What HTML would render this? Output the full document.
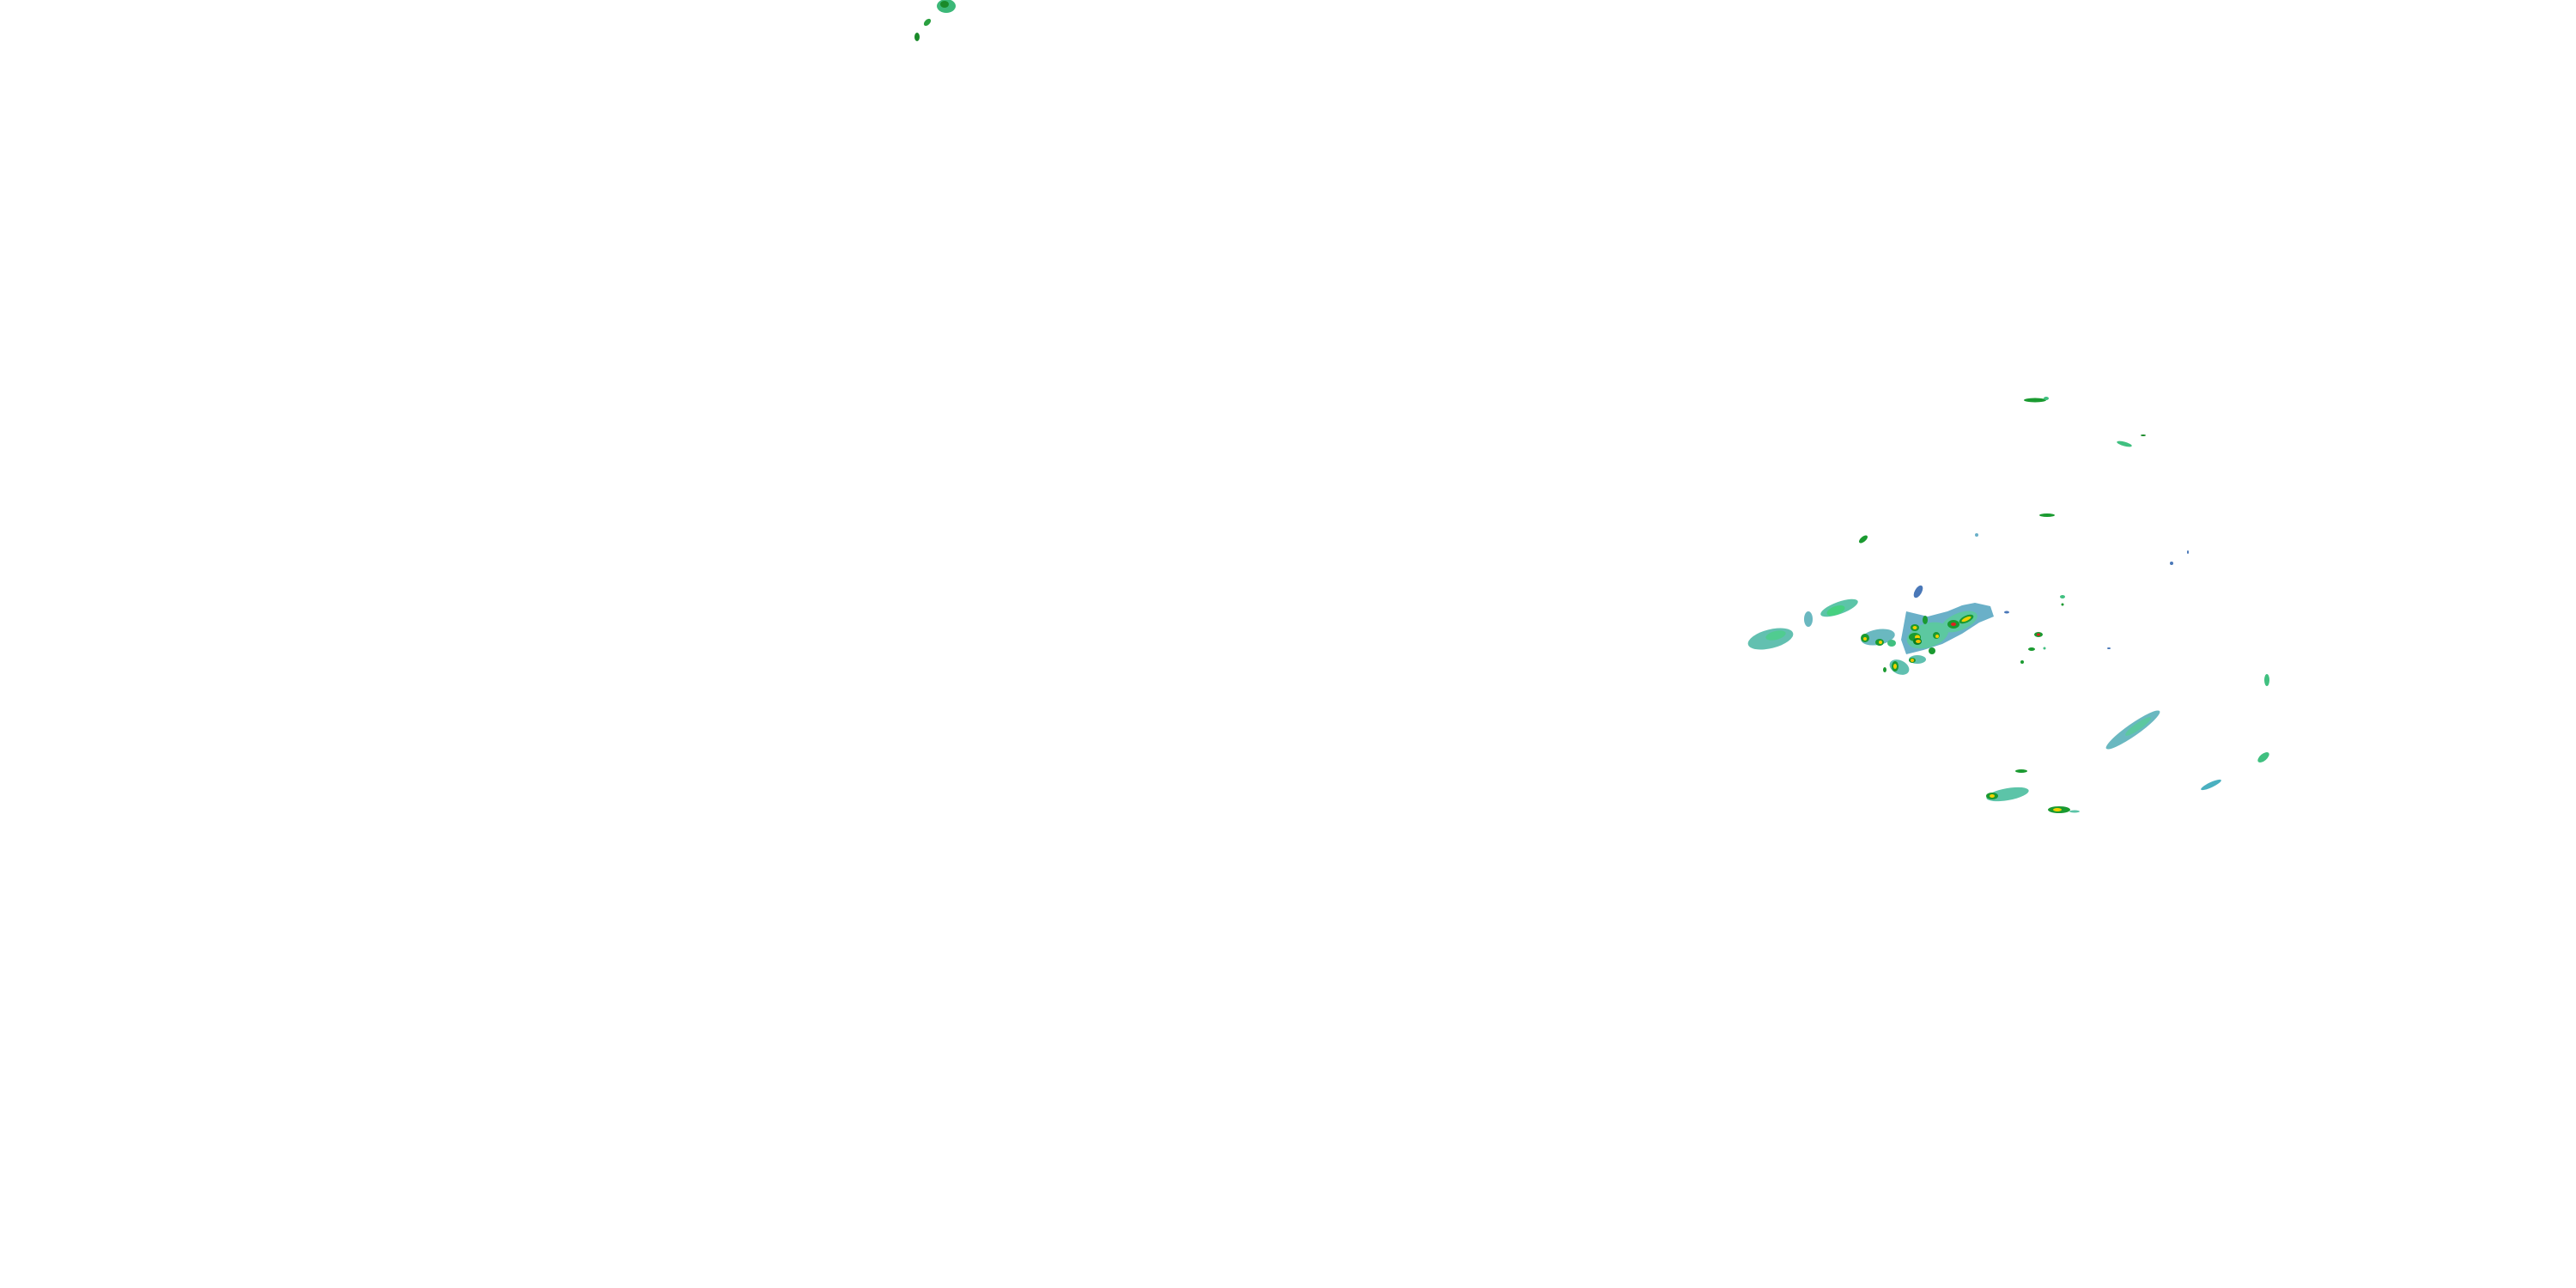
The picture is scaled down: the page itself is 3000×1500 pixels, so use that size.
<!DOCTYPE html>
<html><head><meta charset="utf-8"><style>html,body{margin:0;padding:0;background:#fff}svg{display:block}</style></head>
<body>
<svg width="3000" height="1500" viewBox="0 0 3000 1500" xmlns="http://www.w3.org/2000/svg">
<rect width="3000" height="1500" fill="#fff"/>
<!-- top-left cluster -->
<ellipse cx="1102" cy="7" rx="11" ry="8" fill="#3cb878"/>
<ellipse cx="1100" cy="5" rx="5" ry="4" fill="#1a8a2a"/>
<ellipse cx="1080" cy="26" rx="5" ry="3" fill="#2aa040" transform="rotate(-45 1080 26)"/>
<ellipse cx="1068" cy="43" rx="3" ry="5" fill="#1a8a2a"/>
<!-- main region -->
<g>
<ellipse cx="2062" cy="744" rx="27" ry="11" fill="#62c0b0" transform="rotate(-14 2062 744)"/>
<ellipse cx="2068" cy="740" rx="12" ry="5" fill="#50cc90" transform="rotate(-14 2068 740)"/>
<ellipse cx="2142" cy="708" rx="23" ry="7" fill="#5cc4a8" transform="rotate(-20 2142 708)"/>
<ellipse cx="2138" cy="711" rx="11" ry="5" fill="#46d080" transform="rotate(-20 2138 711)"/>
<ellipse cx="2106" cy="721" rx="5" ry="9" fill="#6ab8c0"/>
<ellipse cx="2234" cy="689" rx="4" ry="8" fill="#4a78b8" transform="rotate(30 2234 689)"/>
<!-- main cluster -->
<polygon points="2220,712 2245,718 2268,712 2285,705 2300,702 2318,706 2322,718 2305,725 2285,738 2262,750 2240,757 2220,762 2214,745" fill="#6ab0c8"/>
<ellipse cx="2245" cy="740" rx="25" ry="14" fill="#5cc8a0" transform="rotate(-18 2245 740)"/>
<ellipse cx="2282" cy="724" rx="22" ry="10" fill="#5cc8a0" transform="rotate(-22 2282 724)"/>
<ellipse cx="2230" cy="742" rx="7" ry="5" fill="#1a9a30"/>
<ellipse cx="2233" cy="742" rx="3" ry="2.5" fill="#f0d000"/>
<ellipse cx="2230" cy="731" rx="5" ry="4" fill="#1a9a30"/>
<ellipse cx="2230" cy="731" rx="2.5" ry="2" fill="#f0d000"/>
<ellipse cx="2233" cy="747" rx="5" ry="4" fill="#0a8020"/>
<ellipse cx="2234" cy="747" rx="3" ry="2" fill="#f0c000"/>
<ellipse cx="2255" cy="740" rx="4" ry="4" fill="#1a9a30"/>
<ellipse cx="2256" cy="741" rx="2" ry="2" fill="#f0d000"/>
<ellipse cx="2275" cy="727" rx="7" ry="5" fill="#1a9a30"/>
<ellipse cx="2275" cy="727" rx="3" ry="2" fill="#e02020"/>
<ellipse cx="2290" cy="721" rx="9" ry="4" fill="#1a9a30" transform="rotate(-25 2290 721)"/>
<ellipse cx="2290" cy="721" rx="6" ry="2" fill="#f0d000" transform="rotate(-25 2290 721)"/>
<ellipse cx="2242" cy="722" rx="3" ry="5" fill="#1a9a30"/>
<!-- left part -->
<ellipse cx="2187" cy="742" rx="20" ry="9" fill="#6ab8c0" transform="rotate(-10 2187 742)"/>
<ellipse cx="2172" cy="743" rx="5" ry="5" fill="#1a9a30"/>
<ellipse cx="2172" cy="744" rx="2" ry="2" fill="#f0d000"/>
<ellipse cx="2189" cy="748" rx="5" ry="4" fill="#1a9a30"/>
<ellipse cx="2190" cy="748" rx="2" ry="2" fill="#f0d000"/>
<ellipse cx="2203" cy="749" rx="5" ry="4" fill="#40c080"/>
<!-- lower -->
<ellipse cx="2212" cy="777" rx="12" ry="8" fill="#60c0b0" transform="rotate(25 2212 777)"/>
<ellipse cx="2207" cy="776" rx="4" ry="6" fill="#1a9a30"/>
<ellipse cx="2207" cy="776" rx="2" ry="3" fill="#f0d000"/>
<ellipse cx="2233" cy="768" rx="10" ry="5" fill="#60c0b0"/>
<ellipse cx="2227" cy="769" rx="4" ry="3" fill="#1a9a30"/>
<ellipse cx="2227" cy="769" rx="2" ry="2" fill="#f0c000"/>
<ellipse cx="2250" cy="758" rx="4" ry="4" fill="#1a9a30"/>
<ellipse cx="2195" cy="780" rx="2" ry="3" fill="#1a9a30"/>
<!-- right dots -->
<ellipse cx="2374" cy="739" rx="5" ry="3" fill="#1a9a30"/>
<ellipse cx="2374" cy="739" rx="2" ry="1.5" fill="#e02020"/>
<ellipse cx="2366" cy="756" rx="4" ry="2" fill="#1a9a30"/>
<ellipse cx="2355" cy="771" rx="2" ry="2" fill="#1a9a30"/>
<ellipse cx="2381" cy="755" rx="1.5" ry="1.5" fill="#40c080"/>
<ellipse cx="2402" cy="695" rx="3" ry="2" fill="#40c080"/>
<ellipse cx="2402" cy="704" rx="1.5" ry="1.5" fill="#1a9a30"/>
<ellipse cx="2456" cy="755" rx="2" ry="1" fill="#4a78b8"/>
<ellipse cx="2337" cy="713" rx="3" ry="1.5" fill="#4a78b8"/>
</g>
<!-- upper scattered -->
<ellipse cx="2370" cy="466" rx="13" ry="2.5" fill="#1a9a30"/>
<ellipse cx="2383" cy="464" rx="3" ry="2" fill="#40c080"/>
<ellipse cx="2474" cy="517" rx="9" ry="2.5" fill="#40c080" transform="rotate(15 2474 517)"/>
<ellipse cx="2496" cy="507" rx="3" ry="1" fill="#1a8a2a"/>
<ellipse cx="2170" cy="628" rx="6" ry="3" fill="#1a9a30" transform="rotate(-40 2170 628)"/>
<ellipse cx="2384" cy="600" rx="9" ry="2" fill="#1a9a30"/>
<ellipse cx="2302" cy="623" rx="2" ry="2" fill="#6ab0c8"/>
<ellipse cx="2529" cy="656" rx="2" ry="2" fill="#4a78b8"/>
<ellipse cx="2548" cy="643" rx="1" ry="2" fill="#4a78b8"/>
<!-- lower right -->
<ellipse cx="2484" cy="850" rx="38" ry="7" fill="#6ab8c0" transform="rotate(-35 2484 850)"/>
<ellipse cx="2490" cy="846" rx="18" ry="4" fill="#5cc8a0" transform="rotate(-35 2490 846)"/>
<ellipse cx="2575" cy="914" rx="13" ry="3" fill="#4ab0c0" transform="rotate(-25 2575 914)"/>
<ellipse cx="2636" cy="882" rx="8" ry="4" fill="#40c080" transform="rotate(-40 2636 882)"/>
<ellipse cx="2640" cy="792" rx="3" ry="7" fill="#40c080"/>
<ellipse cx="2338" cy="925" rx="25" ry="7" fill="#5cc4a8" transform="rotate(-10 2338 925)"/>
<ellipse cx="2320" cy="927" rx="7" ry="4" fill="#1a9a30"/>
<ellipse cx="2320" cy="927" rx="3" ry="2" fill="#f0d000"/>
<ellipse cx="2354" cy="898" rx="7" ry="2" fill="#1a9a30"/>
<ellipse cx="2398" cy="943" rx="13" ry="4" fill="#1a9a30"/>
<ellipse cx="2396" cy="943" rx="5" ry="2" fill="#f0d000"/>
<ellipse cx="2416" cy="945" rx="6" ry="1.5" fill="#5cc4a8"/>
</svg>
</body></html>
